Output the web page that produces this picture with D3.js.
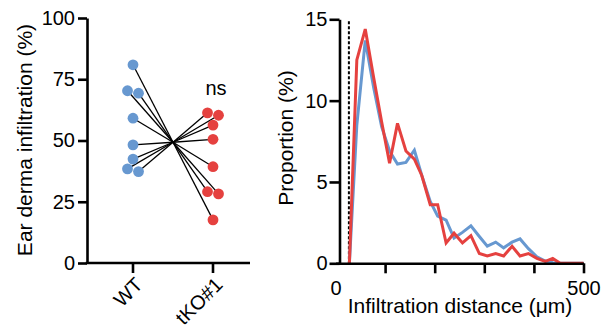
<!DOCTYPE html>
<html lang="en">
  <head>
    <meta charset="UTF-8"/>
    <title>Ear derma infiltration</title>
    <script src="https://d3js.org/d3.v7.min.js"></script>
    <style>
      body {
        margin: 0;
        background: #fff;
      }
      svg text {
        font-family: "Liberation Sans", Arial, sans-serif;
        fill: #000;
      }
      .axis path,
      .axis line {
        stroke: #000;
        stroke-width: 2.6;
      }
      .axis text {
        font-family: "Liberation Sans", Arial, sans-serif;
        font-size: 20px;
      }
      .title {
        font-size: 21px;
      }
    </style>
  </head>
  <body>
    <script>
      // left panel: % infiltration per animal
      const groups = ["WT", "tKO#1"]
      const wtValues  = [80.9, 70.3, 69.3, 59.1, 48.2, 42.4, 38.4, 37.3]
      const tkoValues = [61.3, 60.3, 56.3, 50.5, 39.3, 29.1, 28.2, 17.6]
      const leftTicks = [0, 25, 50, 75, 100]

      // right panel: distribution of infiltration distance
      const distance = [28, 43, 60, 77, 93, 109, 125, 142, 159, 174, 191, 206, 223, 239, 256,
                        273, 290, 306, 323, 339, 356, 372, 389, 406, 423, 438, 453, 469, 484, 500]
      const wtProportion  = [0, 8.5, 13.7, 10.8, 8.4, 6.9, 6.1, 6.2, 6.95, 5.4, 3.8, 2.9, 2.65, 1.55, 1.9,
                             2.3, 1.65, 1.05, 1.3, 0.95, 1.3, 1.5, 0.9, 0.4, 0.14, 0.04, 0, 0, 0, 0]
      const tkoProportion = [0, 12.5, 14.4, 11.4, 8.7, 6.15, 8.6, 6.9, 6.4, 5.4, 3.6, 3.6, 1.25, 1.85, 1.25,
                             1.7, 0.6, 0.45, 0.6, 0.45, 1.05, 0.45, 0.6, 0.3, 0.12, 0.3, 0, 0, 0, 0]
      const rightYTicks = [0, 5, 10, 15]
      const rightXTicks = [0, 100, 200, 300, 400, 500]
      const threshold = 27

      const colors = {"WT": "#6798d0", "tKO#1": "#e5413f"}

      const svg = d3.select("body").append("svg")
          .attr("width", 603)
          .attr("height", 328)

      // ---------- left panel ----------
      const yL = d3.scaleLinear().domain([0, 100]).range([263, 18])
      const xL = d3.scalePoint().domain(groups).range([133, 213])
      const leftAxisX = 87, leftAxisEnd = 250

      // spread points that would overlap (simple beeswarm)
      function swarm(values, group) {
        const pts = values.map(v => ({group, value: v, dx: 0}))
        const sorted = pts.slice().sort((a, b) => b.value - a.value)
        let i = 0
        while (i < sorted.length) {
          let j = i + 1
          while (j < sorted.length && yL(sorted[j].value) - yL(sorted[j - 1].value) < 6) j++
          const n = j - i
          if (n > 1) {
            for (let k = 0; k < n; k++) sorted[i + k].dx = (k - (n - 1) / 2) * 11
          }
          i = j
        }
        return pts
      }
      const points = swarm(wtValues, "WT").concat(swarm(tkoValues, "tKO#1"))
      const centre = {
        x: (xL(groups[0]) + xL(groups[1])) / 2,
        y: yL(d3.mean(wtValues.concat(tkoValues)))
      }

      const left = svg.append("g")

      left.selectAll("line.link")
        .data(points)
        .join("line")
          .attr("class", "link")
          .attr("x1", d => xL(d.group) + d.dx)
          .attr("y1", d => yL(d.value))
          .attr("x2", centre.x)
          .attr("y2", centre.y)
          .attr("stroke", "#000")
          .attr("stroke-width", 1.3)

      left.selectAll("circle")
        .data(points)
        .join("circle")
          .attr("cx", d => xL(d.group) + d.dx)
          .attr("cy", d => yL(d.value))
          .attr("r", 5.4)
          .attr("fill", d => colors[d.group])

      left.append("g")
          .attr("class", "axis")
          .attr("transform", `translate(${leftAxisX},0)`)
          .call(d3.axisLeft(yL).tickValues(leftTicks).tickSize(9).tickSizeOuter(0).tickPadding(3))

      // x axis: plain line with category ticks
      const xAxisL = left.append("g").attr("class", "axis")
      xAxisL.append("path")
          .attr("d", `M${leftAxisX - 1.3},${yL(0)}H${leftAxisEnd}`)
          .attr("fill", "none")
      xAxisL.selectAll("line")
        .data(groups)
        .join("line")
          .attr("x1", d => xL(d)).attr("x2", d => xL(d))
          .attr("y1", yL(0)).attr("y2", yL(0) + 10)
      xAxisL.selectAll("text")
        .data(groups)
        .join("text")
          .attr("transform", d => `translate(${xL(d) + 6},281) rotate(-45)`)
          .attr("text-anchor", "end")
          .attr("dy", "0.35em")
          .text(d => d)

      left.append("text")
          .attr("x", xL("tKO#1") + 3)
          .attr("y", 95)
          .attr("text-anchor", "middle")
          .style("font-size", "20px")
          .text("ns")

      left.append("text")
          .attr("class", "title")
          .attr("transform", "translate(32,140) rotate(-90)")
          .attr("text-anchor", "middle")
          .text("Ear derma infiltration (%)")

      // ---------- right panel ----------
      const xR = d3.scaleLinear().domain([0, 500]).range([335.5, 583.5])
      const yR = d3.scaleLinear().domain([0, 15]).range([263.3, 19.3])
      const rightAxisX = 339.5

      const right = svg.append("g")

      right.append("line")
          .attr("x1", xR(threshold)).attr("x2", xR(threshold))
          .attr("y1", yR(15) + 2).attr("y2", yR(0))
          .attr("stroke", "#000")
          .attr("stroke-width", 2)
          .attr("stroke-dasharray", "3,2")

      const line = d3.line()
          .x((d, i) => xR(distance[i]))
          .y(d => yR(d))

      right.selectAll("path.series")
        .data([["WT", wtProportion], ["tKO#1", tkoProportion]])
        .join("path")
          .attr("class", "series")
          .attr("d", d => line(d[1]))
          .attr("fill", "none")
          .attr("stroke", d => colors[d[0]])
          .attr("stroke-width", 3)
          .attr("stroke-linejoin", "miter")
          .attr("stroke-miterlimit", 2.5)

      const xAxisR = right.append("g")
          .attr("class", "axis")
          .attr("transform", `translate(0,${yR(0)})`)
          .call(d3.axisBottom(xR).tickValues(rightXTicks).tickSize(10).tickSizeOuter(0).tickPadding(8)
            .tickFormat(d => (d === 0 || d === 500) ? d : ""))
      xAxisR.selectAll(".tick").filter(d => d === 0).select("line").remove()

      right.append("g")
          .attr("class", "axis")
          .attr("transform", `translate(${rightAxisX},0)`)
          .call(d3.axisLeft(yR).tickValues(rightYTicks).tickSize(10).tickSizeOuter(0).tickPadding(2))

      right.append("text")
          .attr("class", "title")
          .attr("transform", "translate(293,138) rotate(-90)")
          .attr("text-anchor", "middle")
          .text("Proportion (%)")

      right.append("text")
          .attr("class", "title")
          .attr("x", 460)
          .attr("y", 313)
          .attr("text-anchor", "middle")
          .text("Infiltration distance (μm)")
    </script>
  </body>
</html>
